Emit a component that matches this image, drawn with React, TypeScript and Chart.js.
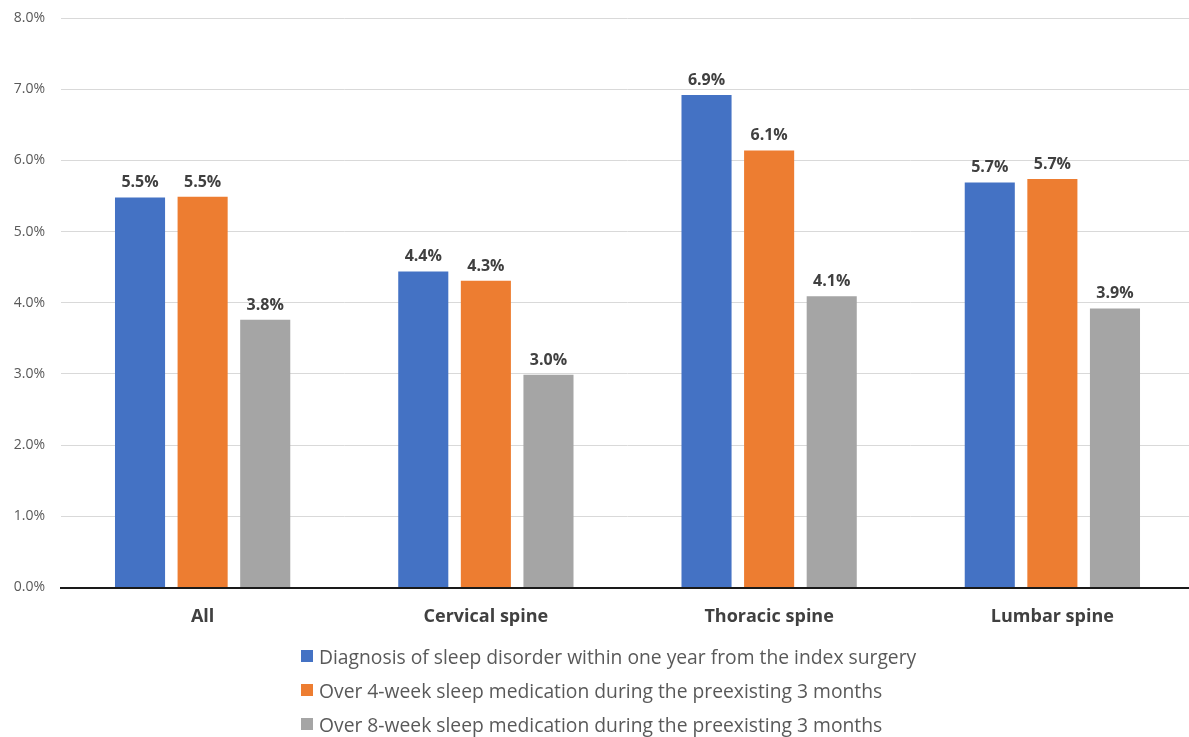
import React, { useEffect, useRef } from "react";
import { Chart, registerables } from "chart.js";

Chart.register(...registerables);

const categories = ["All", "Cervical spine", "Thoracic spine", "Lumbar spine"];
const seriesNames = [
  "Diagnosis of sleep disorder within one year from the index surgery",
  "Over 4-week sleep medication during the preexisting 3 months",
  "Over 8-week sleep medication during the preexisting 3 months",
];
const diagnosisValues = [5.48, 4.44, 6.92, 5.69];
const week4Values = [5.49, 4.31, 6.14, 5.74];
const week8Values = [3.76, 2.99, 4.09, 3.92];
const seriesColors = ["#4472C4", "#ED7D31", "#A5A5A5"];
const yTicks = [0, 1, 2, 3, 4, 5, 6, 7, 8];

const FONT = "'Open Sans', 'Noto Sans', sans-serif";

const valueLabelPlugin = {
  id: "valueLabels",
  afterDatasetsDraw(chart: any) {
    const ctx = chart.ctx;
    ctx.save();
    ctx.font = `bold 16px ${FONT}`;
    ctx.fillStyle = "#404040";
    ctx.textAlign = "center";
    ctx.textBaseline = "alphabetic";
    chart.data.datasets.forEach((ds: any, di: number) => {
      const meta = chart.getDatasetMeta(di);
      meta.data.forEach((bar: any, i: number) => {
        const v = ds.data[i] as number;
        ctx.fillText(v.toFixed(1) + "%", bar.x, bar.y - 10);
      });
    });
    ctx.restore();
  },
};

export default function App() {
  const ref = useRef<HTMLCanvasElement | null>(null);
  useEffect(() => {
    if (!ref.current) return;
    const chart = new Chart(ref.current, {
      type: "bar",
      data: {
        labels: categories,
        datasets: [diagnosisValues, week4Values, week8Values].map((d, i) => ({
          label: seriesNames[i],
          data: d,
          backgroundColor: seriesColors[i],
          barPercentage: 0.8,
          categoryPercentage: 0.663,
        })),
      },
      options: {
        animation: false,
        responsive: false,
        devicePixelRatio: 1,
        layout: { padding: { top: 18, right: 6, left: 0, bottom: 0 } },
        plugins: {
          legend: { display: false },
          tooltip: { enabled: false },
        },
        scales: {
          x: {
            grid: { display: false, drawTicks: false },
            border: { display: true, color: "#1a1a1a", width: 2 },
            ticks: {
              padding: 19,
              color: "#404040",
              font: { family: FONT, size: 18, weight: "bold" },
            },
            afterFit: (s: any) => {
              s.height = 149.5;
              s.paddingLeft = 0;
              s.paddingRight = 0;
            },
          },
          y: {
            min: 0,
            max: 8,
            afterBuildTicks: (s: any) => {
              s.ticks = yTicks.map((v) => ({ value: v }));
            },
            grid: { color: "#D9D9D9", drawTicks: false, lineWidth: 1 },
            border: { display: false },
            ticks: {
              padding: 16,
              color: "#595959",
              font: { family: FONT, size: 14 },
              callback: (v: any) => Number(v).toFixed(1) + "%",
            },
            afterFit: (s: any) => {
              s.width = 61;
              s.paddingTop = 0;
              s.paddingBottom = 0;
            },
          },
        },
      },
      plugins: [valueLabelPlugin],
    });
    return () => chart.destroy();
  }, []);

  const rowCenters = [656, 690, 724];
  return (
    <div
      style={{
        position: "fixed",
        left: 0,
        top: 0,
        width: 1189,
        height: 737,
        overflow: "hidden",
        background: "#fff",
      }}
    >
      <canvas ref={ref} width={1200} height={737} style={{ width: 1200, height: 737, display: "block" }} />
      {seriesNames.map((name, i) => (
        <div
          key={name}
          style={{
            position: "absolute",
            left: 301,
            top: rowCenters[i] - 13,
            height: 26,
            display: "flex",
            alignItems: "center",
            fontFamily: FONT,
            fontSize: 19.3,
            color: "#595959",
            whiteSpace: "nowrap",
          }}
        >
          <span
            style={{
              display: "inline-block",
              width: 12,
              height: 12,
              background: seriesColors[i],
              marginRight: 6,
            }}
          />
          {name}
        </div>
      ))}
    </div>
  );
}
